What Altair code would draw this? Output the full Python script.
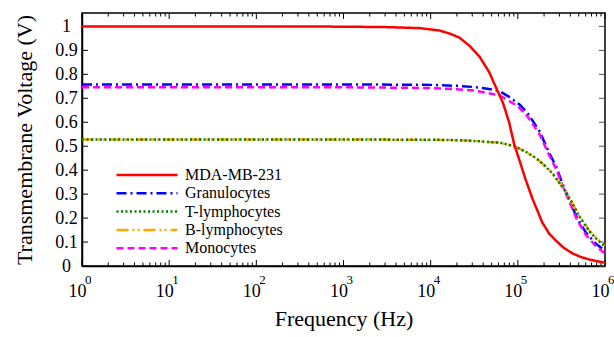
import altair as alt
import pandas as pd

# ---------------- data ----------------
names = ["MDA-MB-231", "Granulocytes", "T-lymphocytes", "B-lymphocytes", "Monocytes"]
colors = ["#ff0000", "#0000ff", "#007f00", "#ffa500", "#ff00ff"]
dashes = [[1, 0], [10, 4, 2, 4], [2, 2.5], [12, 4, 2, 3, 2, 4], [7, 4]]

# log10(frequency) positions and voltages
mda_logf = [0, 2, 3, 3.5, 3.87, 4.1, 4.22, 4.33, 4.45, 4.56, 4.67, 4.76, 4.83, 4.9, 4.96,
            5.02, 5.09, 5.17, 5.28, 5.36, 5.44, 5.53, 5.63, 5.72, 5.82, 5.91, 6.0]
mda_v = [1.0, 1.0, 0.999, 0.997, 0.993, 0.983, 0.97, 0.953, 0.918, 0.874, 0.81, 0.737, 0.68,
         0.6, 0.505, 0.44, 0.36, 0.279, 0.182, 0.135, 0.105, 0.075, 0.052, 0.038, 0.027, 0.02, 0.014]

gran_logf = [0, 3, 4.0, 4.3, 4.5, 4.65, 4.79, 4.9, 5.02, 5.11, 5.25, 5.36, 5.44, 5.51, 5.55,
             5.59, 5.68, 5.78, 5.89, 6.0]
gran_v = [0.758, 0.758, 0.756, 0.752, 0.747, 0.74, 0.73, 0.706, 0.674, 0.639, 0.562, 0.472,
          0.415, 0.345, 0.31, 0.275, 0.2, 0.14, 0.095, 0.063]

mono_logf = [0, 3, 4.0, 4.3, 4.5, 4.65, 4.79, 5.0, 5.11, 5.25, 5.36, 5.44, 5.51, 5.59, 5.68,
             5.78, 5.89, 6.0]
mono_v = [0.746, 0.746, 0.743, 0.738, 0.732, 0.722, 0.712, 0.667, 0.625, 0.55, 0.462, 0.405,
          0.337, 0.27, 0.192, 0.13, 0.085, 0.052]

tly_logf = [0, 3, 4.0, 4.3, 4.5, 4.65, 4.79, 4.96, 5.09, 5.21, 5.32, 5.4, 5.47, 5.55, 5.62,
            5.7, 5.82, 5.91, 6.0]
tly_v = [0.528, 0.528, 0.527, 0.525, 0.522, 0.518, 0.515, 0.5, 0.477, 0.45, 0.415, 0.385,
         0.35, 0.31, 0.265, 0.21, 0.145, 0.11, 0.082]

bly_logf = [0, 3, 4.0, 4.3, 4.5, 4.65, 4.79, 4.96, 5.09, 5.21, 5.32, 5.4, 5.47, 5.55, 5.62,
            5.7, 5.82, 5.91, 6.0]
bly_v = [0.528, 0.528, 0.527, 0.525, 0.522, 0.518, 0.515, 0.5, 0.477, 0.45, 0.416, 0.386,
         0.352, 0.312, 0.267, 0.213, 0.148, 0.113, 0.085]

decades = [0, 1, 2, 3, 4, 5, 6]
minor_mult = [2, 3, 4, 5, 6, 7, 8, 9]
y_ticks = [0, 0.1, 0.2, 0.3, 0.4, 0.5, 0.6, 0.7, 0.8, 0.9, 1.0]

# ---------------- tables ----------------
rows = []
for name, lf, vv in [("MDA-MB-231", mda_logf, mda_v), ("Granulocytes", gran_logf, gran_v),
                     ("T-lymphocytes", tly_logf, tly_v), ("B-lymphocytes", bly_logf, bly_v),
                     ("Monocytes", mono_logf, mono_v)]:
    for a, b in zip(lf, vv):
        rows.append({"series": name, "f": 10 ** a, "v": b})
df = pd.DataFrame(rows)

major_df = pd.DataFrame({"f": [10 ** d for d in decades], "e": [str(d) for d in decades]})
minor_df = pd.DataFrame({"f": [m * 10 ** d for d in decades[:-1] for m in minor_mult]})
ytick_df = pd.DataFrame({"v": y_ticks})

W, H = 523, 253
FONT = "Liberation Serif"

x_scale = alt.Scale(type="log", domain=[1, 1e6], nice=False)
y_scale = alt.Scale(domain=[0, 1.056], nice=False, zero=False)

x_axis = alt.Axis(title="Frequency (Hz)", values=[10 ** d for d in decades], labelExpr="'10'",
                  labelFont=FONT, titleFont=FONT,
                  labelFontSize=18, labelOffset=-5, labelPadding=30, labelBaseline="alphabetic",
                  ticks=False, tickSize=0, grid=False, labelFlush=False, labelOverlap=False,
                  titleFontSize=22, titleFontWeight="normal", titlePadding=8,
                  domainColor="black", domainWidth=1.5, labelColor="black", titleColor="black")
y_axis = alt.Axis(title="Transmembrane Voltage (V)", values=y_ticks, format="~g",
                  labelFont=FONT, titleFont=FONT,
                  labelAlign="center", labelPadding=16, labelBaseline="middle", labelFontSize=18,
                  ticks=False, tickSize=0, grid=False, labelOverlap=False, labelFlush=False,
                  titleFontSize=22, titleFontWeight="normal", titlePadding=18,
                  domainColor="black", domainWidth=1.5, labelColor="black", titleColor="black")

X = alt.X("f:Q", scale=x_scale, axis=x_axis)
Y = alt.Y("v:Q", scale=y_scale, axis=y_axis)

legend = alt.Legend(title=None, orient="none", legendX=33, legendY=154, symbolType="stroke",
                    symbolSize=3721, symbolStrokeWidth=2.5, clipHeight=16, rowPadding=2.3,
                    labelFont=FONT, labelFontSize=16, labelOffset=6, padding=0,
                    labelColor="black", direction="vertical")
color_scale = alt.Scale(domain=names, range=colors)
dash_scale = alt.Scale(domain=names, range=dashes)


def series_layer(name):
    return alt.Chart(df).transform_filter(alt.datum.series == name).mark_line(
        strokeWidth=2.5, clip=True).encode(
        x=X, y=Y,
        color=alt.Color("series:N", scale=color_scale, legend=legend),
        strokeDash=alt.StrokeDash("series:N", scale=dash_scale, legend=legend),
    )


lines = [series_layer(n) for n in ["Granulocytes", "Monocytes", "B-lymphocytes", "T-lymphocytes", "MDA-MB-231"]]

tick_color = "black"
maj_bot = alt.Chart(major_df).mark_rule(color=tick_color, strokeWidth=1).encode(
    x=X, y=alt.value(H), y2=alt.value(H - 6))
maj_top = alt.Chart(major_df).mark_rule(color=tick_color, strokeWidth=1).encode(
    x=X, y=alt.value(0), y2=alt.value(6))
min_bot = alt.Chart(minor_df).mark_rule(color=tick_color, strokeWidth=1).encode(
    x=X, y=alt.value(H), y2=alt.value(H - 3.5))
min_top = alt.Chart(minor_df).mark_rule(color=tick_color, strokeWidth=1).encode(
    x=X, y=alt.value(0), y2=alt.value(3.5))
y_left = alt.Chart(ytick_df).mark_rule(color=tick_color, strokeWidth=1).encode(
    y=Y, x=alt.value(0), x2=alt.value(6))
y_right = alt.Chart(ytick_df).mark_rule(color="#555555", strokeWidth=1).encode(
    y=Y, x=alt.value(W - 6), x2=alt.value(W))

exps = alt.Chart(major_df).mark_text(align="left", baseline="alphabetic", fontSize=13,
                                     font=FONT, dx=3, color="black").encode(
    x=X, y=alt.value(H + 18), text="e:N")

chart = alt.layer(maj_bot, maj_top, min_bot, min_top, y_left, y_right, *lines, exps).properties(
    width=W, height=H,
    autosize=alt.AutoSizeParams(type="none"),
    padding={"left": 82, "top": 13, "right": 9, "bottom": 71},
).configure(font=FONT).configure_view(stroke="black", strokeWidth=1.5).configure_axis(
    labelFont=FONT, titleFont=FONT)

chart.save("out.html", embed_options={"renderer": "svg", "actions": False})
